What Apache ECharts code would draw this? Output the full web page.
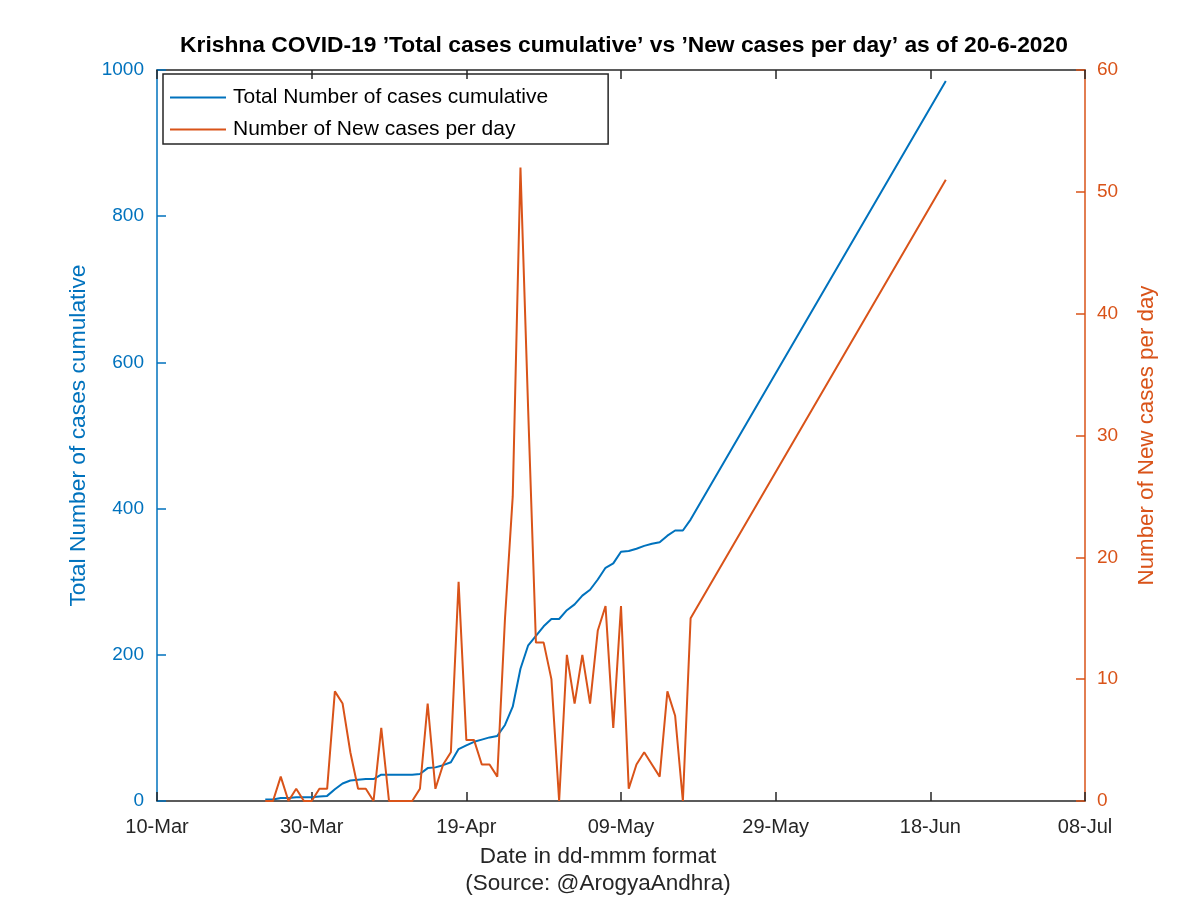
<!DOCTYPE html>
<html>
<head>
<meta charset="utf-8">
<script src="https://cdn.jsdelivr.net/npm/echarts@6/dist/echarts.min.js"></script>
<style>html,body{margin:0;padding:0;background:#fff;}#c{width:1200px;height:898px;}</style>
</head>
<body>
<div id="c"></div>
<script>
// ---- data ----
const dates = ['2020-03-24','2020-03-25','2020-03-26','2020-03-27','2020-03-28','2020-03-29','2020-03-30','2020-03-31',
  '2020-04-01','2020-04-02','2020-04-03','2020-04-04','2020-04-05','2020-04-06','2020-04-07','2020-04-08','2020-04-09',
  '2020-04-10','2020-04-11','2020-04-12','2020-04-13','2020-04-14','2020-04-15','2020-04-16','2020-04-17','2020-04-18',
  '2020-04-19','2020-04-20','2020-04-21','2020-04-22','2020-04-23','2020-04-24','2020-04-25','2020-04-26','2020-04-27',
  '2020-04-28','2020-04-29','2020-04-30','2020-05-01','2020-05-02','2020-05-03','2020-05-04','2020-05-05','2020-05-06',
  '2020-05-07','2020-05-08','2020-05-09','2020-05-10','2020-05-11','2020-05-12','2020-05-13','2020-05-14','2020-05-15',
  '2020-05-16','2020-05-17','2020-05-18','2020-06-20'];
const totalCases = [2,2,4,4,5,5,5,6,
  7,16,24,28,29,30,30,36,36,
  36,36,36,37,45,46,49,53,71,
  76,81,84,87,89,104,129,181,213,
  226,239,249,249,261,269,281,289,303,
  319,325,341,342,345,349,352,354,363,
  370,370,385,985];
const newCases = [0,0,2,0,1,0,0,1,
  1,9,8,4,1,1,0,6,0,
  0,0,0,1,8,1,3,4,18,
  5,5,3,3,2,15,25,52,32,
  13,13,10,0,12,8,12,8,14,
  16,6,16,1,3,4,3,2,9,
  7,0,15,51];
const xTickLabels = ['10-Mar','30-Mar','19-Apr','09-May','29-May','18-Jun','08-Jul'];
const startDate = '2020-03-10';
const leftTicks = [0,200,400,600,800,1000];
const rightTicks = [0,10,20,30,40,50,60];

// ---- build ----
const t0 = Date.parse(startDate + 'T00:00:00Z');
const dayIdx = dates.map(d => Math.round((Date.parse(d + 'T00:00:00Z') - t0) / 86400000));
const totalData = dayIdx.map((d, i) => [d, totalCases[i]]);
const newData = dayIdx.map((d, i) => [d, newCases[i]]);

const BLUE = '#0072BD', ORANGE = '#D95319', DARK = '#262626';
const FONT = 'Liberation Sans';

const chart = echarts.init(document.getElementById('c'));
chart.setOption({
  backgroundColor: '#fff',
  animation: false,
  textStyle: { fontFamily: FONT },
  title: {
    text: 'Krishna COVID-19 \u2019Total cases cumulative\u2019 vs \u2019New cases per day\u2019 as of 20-6-2020',
    left: 619, top: 29, textAlign: 'center',
    textStyle: { fontFamily: FONT, fontSize: 22.8, fontWeight: 'bold', color: '#000' }
  },
  legend: {
    left: 163, top: 74, orient: 'vertical',
    borderColor: DARK, borderWidth: 1.5, borderRadius: 0,
    padding: [13, 60, 4, 7], itemGap: 11,
    itemWidth: 56, itemHeight: 2, icon: 'rect',
    textStyle: { fontFamily: FONT, fontSize: 21, color: '#000', padding: [0,0,0,2] },
    data: ['Total Number of cases cumulative', 'Number of New cases per day']
  },
  grid: { left: 157, right: 115, top: 70, bottom: 97, containLabel: false, outerBoundsMode: 'none' },
  xAxis: [{
    type: 'value', min: 0, max: 120, interval: 20, position: 'bottom',
    name: 'Date in dd-mmm format\n(Source: @ArogyaAndhra)', nameLocation: 'middle', nameGap: 42,
    nameTextStyle: { fontFamily: FONT, fontSize: 22.5, color: DARK, lineHeight: 27, verticalAlign: 'top',
      padding: [0, 46, 0, 0] },
    axisLine: { show: true, onZero: false, lineStyle: { color: DARK, width: 1.5 } },
    axisTick: { show: true, inside: true, length: 9, lineStyle: { color: DARK, width: 1.5 } },
    axisLabel: { fontFamily: FONT, fontSize: 20, color: DARK, margin: 16,
      formatter: v => xTickLabels[Math.round(v / 20)] },
    splitLine: { show: false }
  }, {
    type: 'value', min: 0, max: 120, interval: 20, position: 'top',
    axisLine: { show: true, onZero: false, lineStyle: { color: DARK, width: 1.5 } },
    axisTick: { show: true, inside: true, length: 9, lineStyle: { color: DARK, width: 1.5 } },
    axisLabel: { show: false },
    splitLine: { show: false }
  }],
  yAxis: [{
    type: 'value', min: leftTicks[0], max: leftTicks[leftTicks.length - 1], interval: 200, position: 'left',
    name: 'Total Number of cases cumulative', nameLocation: 'middle', nameGap: 67, nameRotate: 90,
    nameTextStyle: { fontFamily: FONT, fontSize: 22.8, color: BLUE },
    axisLine: { show: true, onZero: false, lineStyle: { color: BLUE, width: 1.5 } },
    axisTick: { show: true, inside: true, length: 9, lineStyle: { color: BLUE, width: 1.5 } },
    axisLabel: { fontFamily: FONT, fontSize: 19, color: BLUE, margin: 13, formatter: v => String(v) },
    splitLine: { show: false }
  }, {
    type: 'value', min: rightTicks[0], max: rightTicks[rightTicks.length - 1], interval: 10, position: 'right',
    name: 'Number of New cases per day', nameLocation: 'middle', nameGap: 51, nameRotate: 90,
    nameTextStyle: { fontFamily: FONT, fontSize: 22.3, color: ORANGE },
    axisLine: { show: true, onZero: false, lineStyle: { color: ORANGE, width: 1.5 } },
    axisTick: { show: true, inside: true, length: 9, lineStyle: { color: ORANGE, width: 1.5 } },
    axisLabel: { fontFamily: FONT, fontSize: 19, color: ORANGE, margin: 12, formatter: v => String(v) },
    splitLine: { show: false }
  }],
  series: [{
    name: 'Total Number of cases cumulative', type: 'line', xAxisIndex: 0, yAxisIndex: 0,
    data: totalData, showSymbol: false, symbol: 'none',
    lineStyle: { color: BLUE, width: 2 }, itemStyle: { color: BLUE }
  }, {
    name: 'Number of New cases per day', type: 'line', xAxisIndex: 0, yAxisIndex: 1,
    data: newData, showSymbol: false, symbol: 'none',
    lineStyle: { color: ORANGE, width: 2 }, itemStyle: { color: ORANGE }
  }]
});
</script>
</body>
</html>
